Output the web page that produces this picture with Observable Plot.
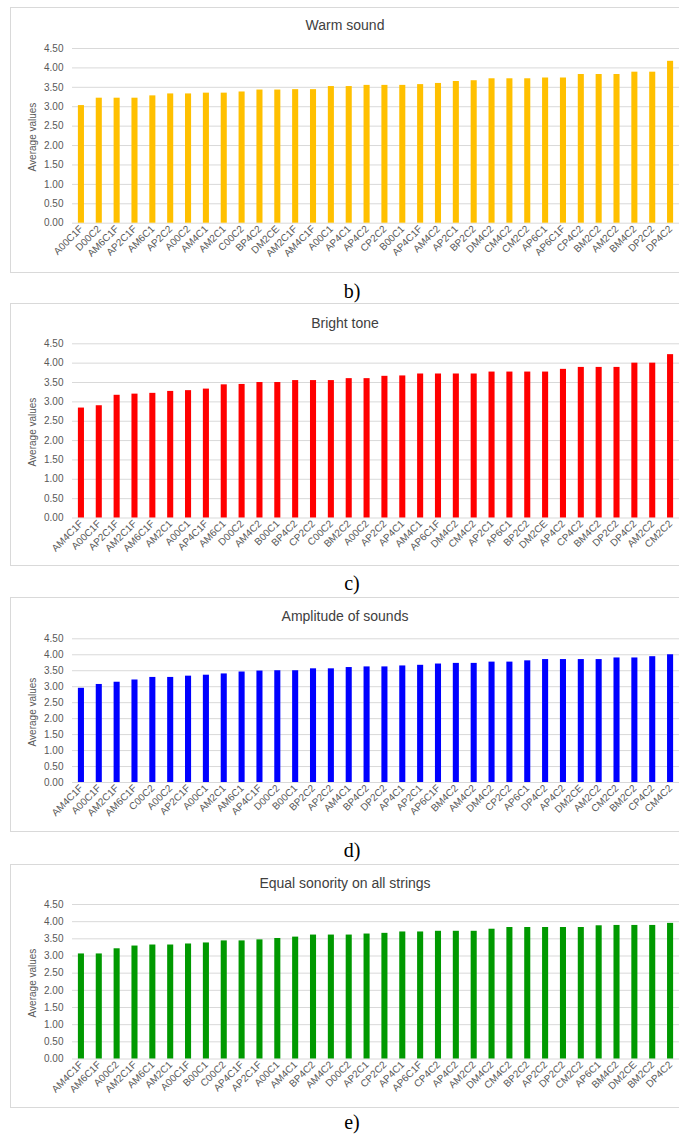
<!DOCTYPE html>
<html>
<head>
<meta charset="utf-8">
<script src="https://cdn.jsdelivr.net/npm/d3@7"></script>
<script src="https://cdn.jsdelivr.net/npm/@observablehq/plot@0.6"></script>
<style>
  body { margin: 0; background: #fff; }
  #page { position: relative; width: 679px; height: 1135px; overflow: hidden; font-family: "Liberation Sans", Arial, sans-serif; }
  .box { position: absolute; left: 10px; width: 680px; border: 1px solid #d9d9d9; box-sizing: border-box; pointer-events: none; }
  .title { position: absolute; left: 10px; width: 670px; text-align: center; font-size: 14px; color: #404040; line-height: 1; }
  .cap { position: absolute; left: 0; width: 704px; text-align: center; font-family: "Liberation Serif", "Times New Roman", serif; font-size: 20px; line-height: 1; color: #000; }
  .ylab { position: absolute; width: 120px; height: 12px; margin-left: -60px; margin-top: -6px; text-align: center; font-size: 10px; line-height: 12px; color: #595959; transform: rotate(-90deg); white-space: nowrap; }
  .plot { position: absolute; left: 0; }
</style>
</head>
<body>
<div id="page"></div>
<script>
// ---- data ----
const yTicks = [0, 0.5, 1, 1.5, 2, 2.5, 3, 3.5, 4, 4.5];

const warmLabels = ["A00C1F","D00C2","AM6C1F","AP2C1F","AM6C1","AP2C2","A00C2","AM4C1","AM2C1","C00C2","BP4C2","DM2CE","AM2C1F","AM4C1F","A00C1","AP4C1","AP4C2","CP2C2","B00C1","AP4C1F","AM4C2","AP2C1","BP2C2","DM4C2","CM4C2","CM2C2","AP6C1","AP6C1F","CP4C2","BM2C2","AM2C2","BM4C2","DP2C2","DP4C2"];
const warmValues = [3.03,3.22,3.22,3.22,3.28,3.33,3.33,3.35,3.35,3.38,3.43,3.43,3.44,3.44,3.52,3.52,3.55,3.55,3.55,3.57,3.60,3.65,3.67,3.72,3.72,3.72,3.74,3.74,3.83,3.83,3.83,3.89,3.89,4.17];

const brightLabels = ["AM4C1F","A00C1F","AP2C1F","AM2C1F","AM6C1F","AM2C1","A00C1","AP4C1F","AM6C1","D00C2","AM4C2","B00C1","BP4C2","CP2C2","C00C2","BM2C2","A00C2","AP2C2","AP4C1","AM4C1","AP6C1F","DM4C2","CM4C2","AP2C1","AP6C1","BP2C2","DM2CE","AP4C2","CP4C2","BM4C2","DP2C2","DP4C2","AM2C2","CM2C2"];
const brightValues = [2.84,2.90,3.17,3.20,3.22,3.27,3.29,3.33,3.44,3.45,3.50,3.50,3.55,3.55,3.55,3.60,3.60,3.66,3.67,3.72,3.72,3.72,3.72,3.77,3.77,3.77,3.77,3.84,3.89,3.89,3.89,4.00,4.00,4.22];

const ampLabels = ["AM4C1F","A00C1F","AM2C1F","AM6C1F","C00C2","A00C2","AP2C1F","A00C1","AM2C1","AM6C1","AP4C1F","D00C2","B00C1","BP2C2","AP2C2","AM4C1","BP4C2","DP2C2","AP4C1","AP2C1","AP6C1F","BM4C2","AM4C2","DM4C2","CP2C2","AP6C1","DP4C2","AP4C2","DM2CE","AM2C2","CM2C2","BM2C2","CP4C2","CM4C2"];
const ampValues = [2.95,3.07,3.14,3.21,3.29,3.29,3.33,3.36,3.40,3.46,3.49,3.50,3.50,3.56,3.56,3.60,3.62,3.62,3.65,3.67,3.71,3.73,3.73,3.77,3.77,3.81,3.85,3.85,3.85,3.85,3.90,3.90,3.94,4.00];

const equalLabels = ["AM4C1F","AM6C1F","A00C2","AM2C1F","AM6C1","AM2C1","A00C1F","B00C1","C00C2","AP4C1F","AP2C1F","A00C1","AM4C1","BP4C2","AM4C2","D00C2","AP2C1","CP2C2","AP4C1","AP6C1F","CP4C2","AP4C2","AM2C2","DM4C2","CM4C2","BP2C2","AP2C2","DP2C2","CM2C2","AP6C1","BM4C2","DM2CE","BM2C2","DP4C2"];
const equalValues = [3.06,3.06,3.21,3.29,3.32,3.32,3.35,3.38,3.44,3.44,3.47,3.51,3.55,3.61,3.61,3.61,3.64,3.66,3.70,3.70,3.72,3.72,3.72,3.78,3.83,3.83,3.83,3.83,3.83,3.88,3.89,3.89,3.89,3.95];

const titles = ["Warm sound", "Bright tone", "Amplitude of sounds", "Equal sonority on all strings"];
const captions = ["b)", "c)", "d)", "e)"];
const yAxisLabel = "Average values";
const colors = ["#FFC000", "#FF0000", "#0000FF", "#009900"];

// ---- layout ----
const panels = [
  {labels: warmLabels, values: warmValues, top: 7, bottom: 272, y45: 48, y0: 222.7, titleY: 25, capY: 291},
  {labels: brightLabels, values: brightValues, top: 303, bottom: 565, y45: 343.3, y0: 517.5, titleY: 322.7, capY: 583},
  {labels: ampLabels, values: ampValues, top: 597, bottom: 831, y45: 638.3, y0: 782, titleY: 616, capY: 850},
  {labels: equalLabels, values: equalValues, top: 864, bottom: 1107, y45: 904, y0: 1058.5, titleY: 882.7, capY: 1122}
];

const page = document.getElementById("page");

panels.forEach((p, i) => {
  const data = p.labels.map((k, j) => ({k, v: p.values[j]}));
  const h = p.bottom - p.top;
  const chart = Plot.plot({
    width: 679,
    height: h,
    marginLeft: 72,
    marginRight: 0,
    marginTop: p.y45 - p.top,
    marginBottom: p.bottom - p.y0,
    style: {background: "transparent", fontFamily: "'Liberation Sans', Arial, sans-serif", color: "#595959", overflow: "visible"},
    x: {domain: p.labels, paddingInner: 0.66, paddingOuter: 0.33, align: 0.5, round: false, label: null},
    y: {domain: [0, 4.5], label: null},
    marks: [
      Plot.gridY(yTicks, {stroke: "#d9d9d9", strokeOpacity: 1}),
      Plot.barY(data, {x: "k", y: "v", fill: colors[i]}),
      Plot.axisY(yTicks, {tickSize: 0, tickPadding: 9, tickFormat: d => d.toFixed(2), fontSize: 10, fill: "#595959", label: null}),
      Plot.axisX({tickSize: 0, tickRotate: -45, tickPadding: 4, fontSize: 10, fill: "#595959", label: null})
    ]
  });
  chart.classList.add("plot");
  chart.style.top = p.top + "px";
  page.appendChild(chart);

  const box = document.createElement("div");
  box.className = "box";
  box.style.top = p.top + "px";
  box.style.height = (h + 1) + "px";
  page.appendChild(box);

  const yl = document.createElement("div");
  yl.className = "ylab";
  yl.textContent = yAxisLabel;
  yl.style.left = "33px";
  yl.style.top = ((p.y45 + p.y0) / 2 + 2) + "px";
  page.appendChild(yl);

  const t = document.createElement("div");
  t.className = "title";
  t.textContent = titles[i];
  t.style.top = (p.titleY - 7) + "px";
  page.appendChild(t);

  const c = document.createElement("div");
  c.className = "cap";
  c.textContent = captions[i];
  c.style.top = (p.capY - 10) + "px";
  page.appendChild(c);
});
</script>
</body>
</html>
